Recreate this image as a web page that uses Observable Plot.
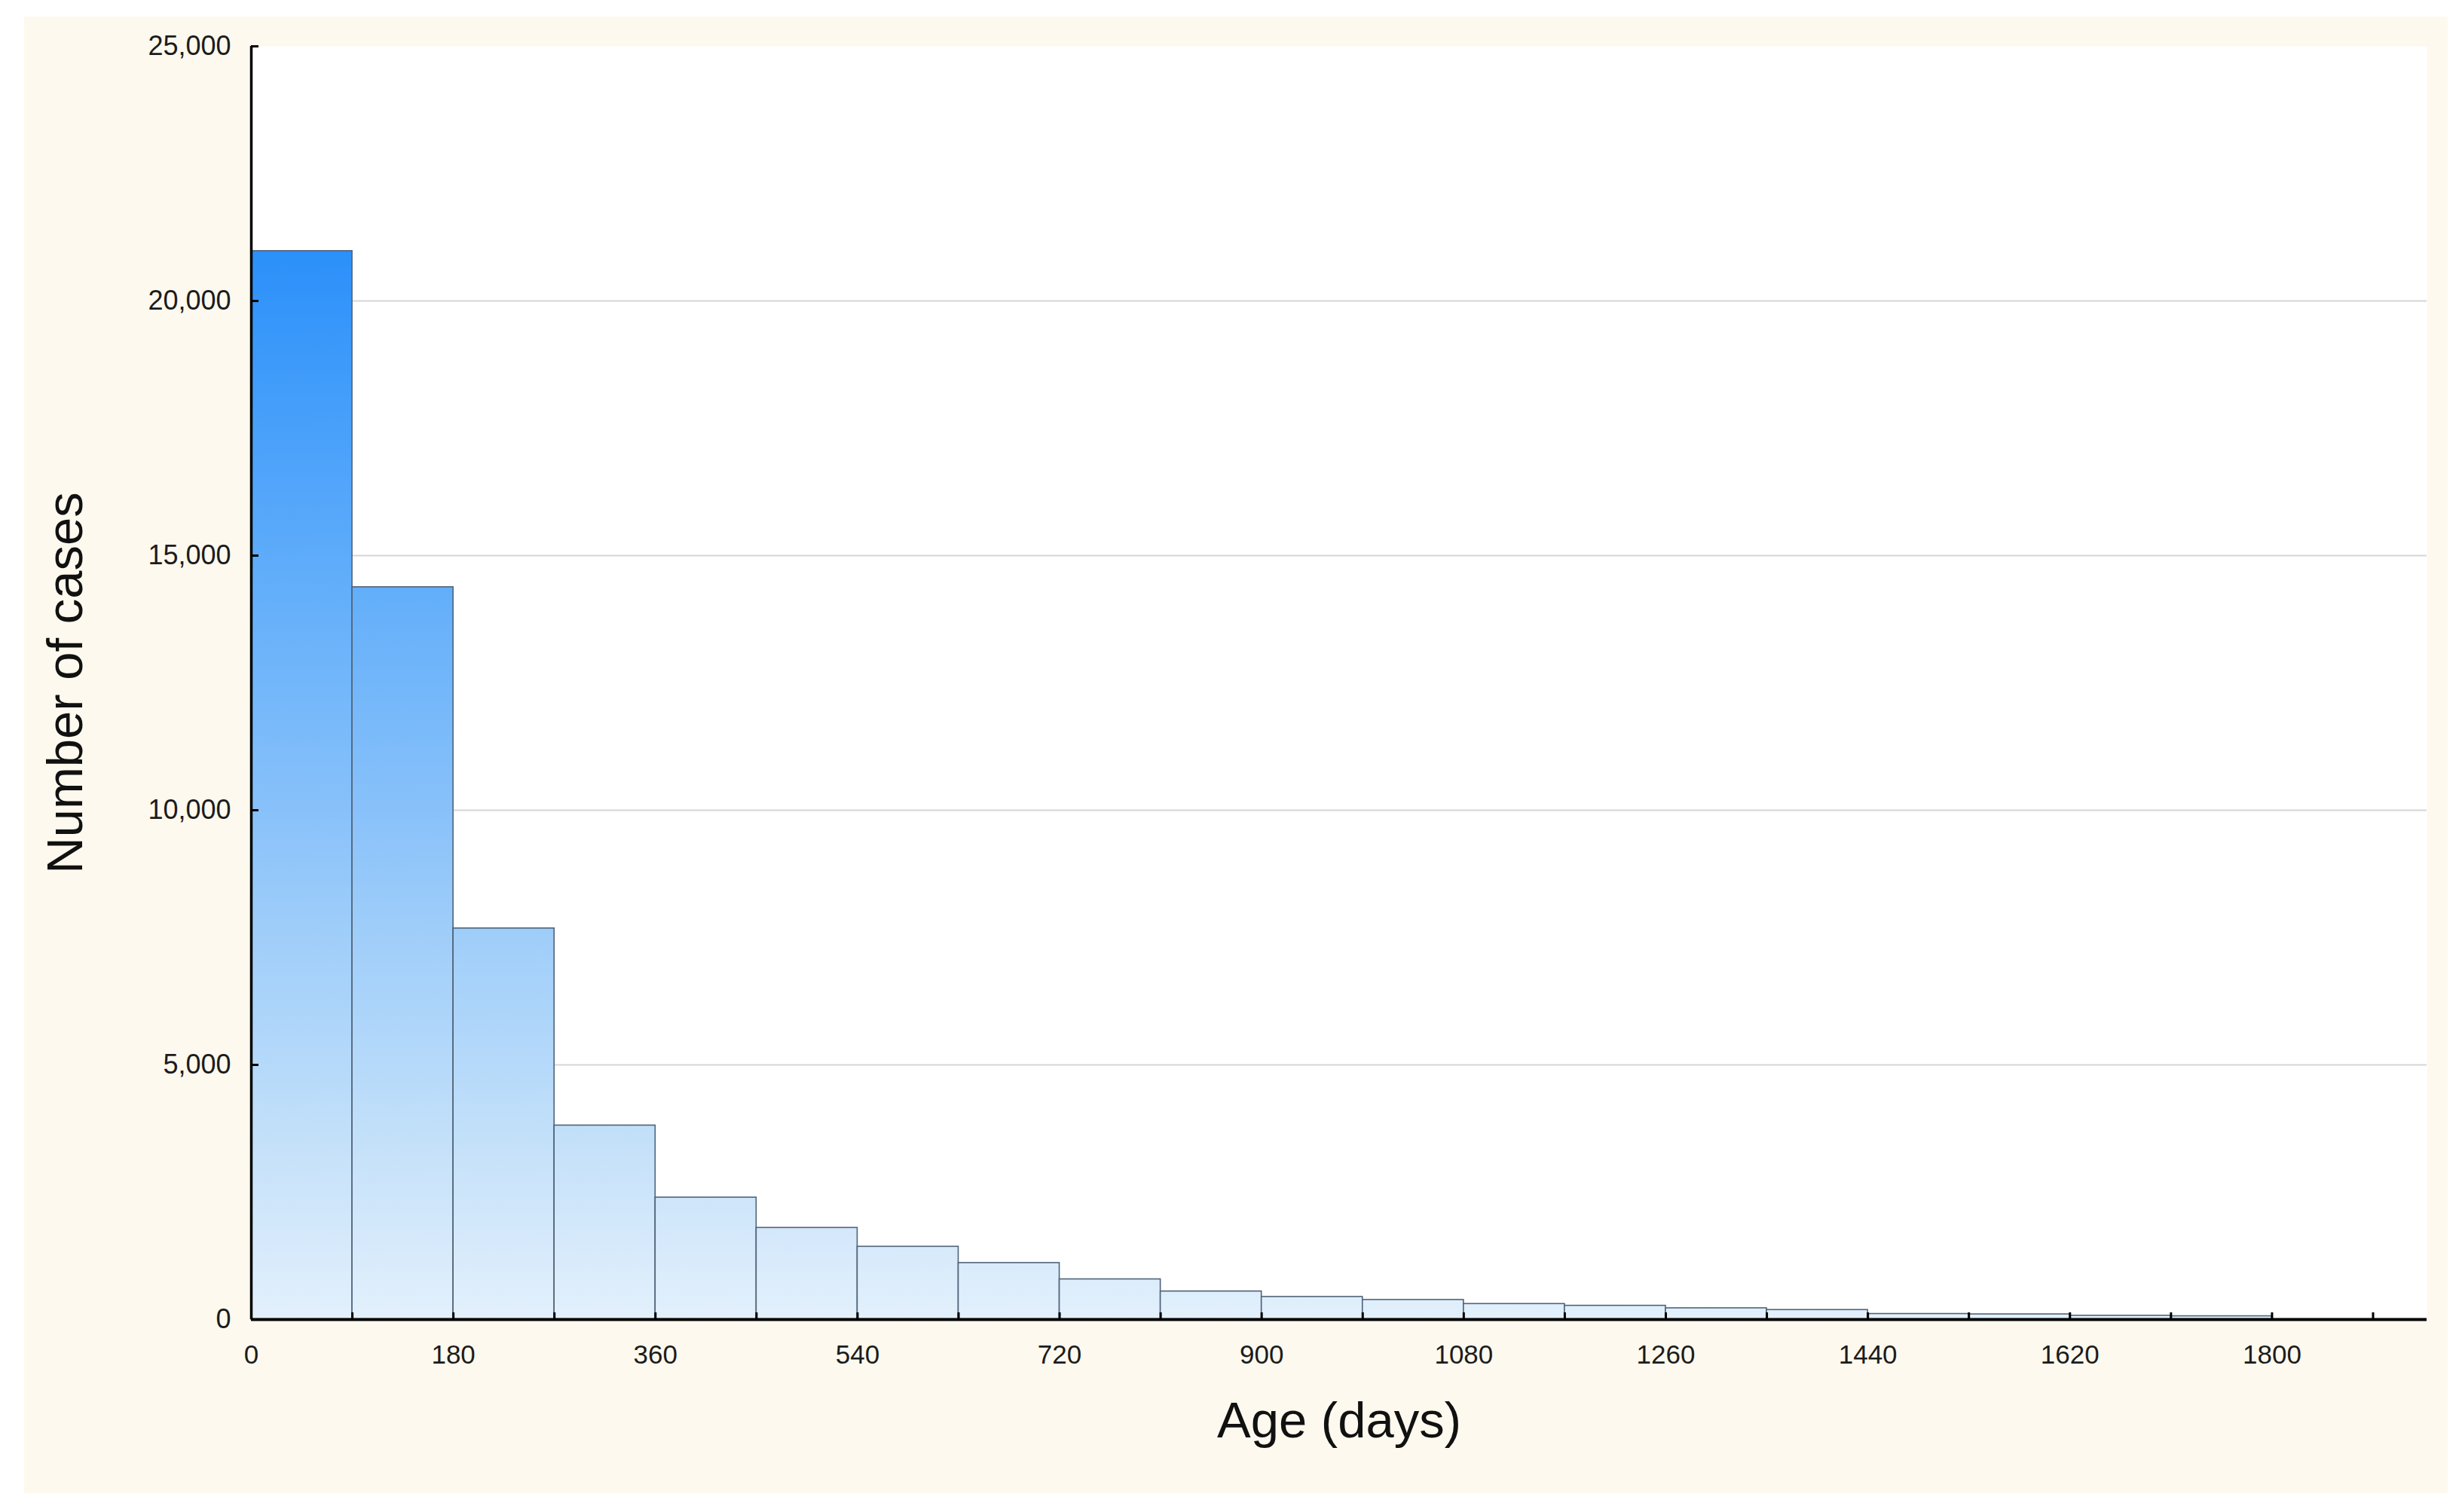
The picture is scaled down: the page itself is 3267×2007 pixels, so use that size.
<!DOCTYPE html>
<html>
<head>
<meta charset="utf-8">
<script src="https://cdn.jsdelivr.net/npm/d3@7"></script>
<script src="https://cdn.jsdelivr.net/npm/@observablehq/plot@0.6"></script>
<style>
  html, body { margin: 0; padding: 0; background: #ffffff; }
  #panel { position: absolute; left: 32px; top: 22px; width: 3216px; height: 1960px; background: #fdf9ee; }
  #chart { position: absolute; left: 0; top: 0; }
</style>
</head>
<body>
<div id="panel"></div>
<div id="chart"></div>
<script>
// ---- Data ----
const binStart = [0, 90, 180, 270, 360, 450, 540, 630, 720, 810, 900, 990, 1080, 1170, 1260, 1350, 1440, 1530, 1620, 1710];
const binWidth = 90;
const cases = [20980, 14380, 7680, 3810, 2395, 1800, 1430, 1110, 790, 552, 444, 385, 306, 271, 222, 188, 110, 102, 75, 65];

const yTicks = [0, 5000, 10000, 15000, 20000, 25000];
const gridValues = [5000, 10000, 15000, 20000];
const xMinorTicks = [0, 90, 180, 270, 360, 450, 540, 630, 720, 810, 900, 990, 1080, 1170, 1260, 1350, 1440, 1530, 1620, 1710, 1800, 1890];
const xTickLabels = [0, 180, 360, 540, 720, 900, 1080, 1260, 1440, 1620, 1800];
const xDomain = [0, 1938];
const yDomain = [0, 25000];

const xLabel = "Age (days)";
const yLabel = "Number of cases";

// gradient (style): value level -> colour
const gradientLevels = [21000, 14400, 10000, 7700, 5000, 3800, 0];
const gradientColors = ["#2b90fa", "#62aefa", "#88c1fa", "#9ecdf9", "#b5d9fa", "#c1dff9", "#e3f0fc"];

const bins = binStart.map((s, i) => ({start: s, end: s + binWidth, count: cases[i]}));

const chart = Plot.plot({
  width: 3267,
  height: 2007,
  marginLeft: 333,
  marginRight: 47,
  marginTop: 61,
  marginBottom: 256,
  style: {
    background: "transparent",
    fontFamily: "'Liberation Sans', Arial, sans-serif",
    color: "#1c1c1c",
    overflow: "visible"
  },
  x: {domain: xDomain},
  y: {domain: yDomain},
  marks: [
    Plot.frame({fill: "white", stroke: "none"}),
    Plot.ruleY(gridValues, {stroke: "#d6d6d6", strokeWidth: 2}),
    Plot.rectY(bins, {
      x1: "start", x2: "end", y: "count",
      fill: "url(#barGradient)",
      stroke: "#4f6378", strokeWidth: 1.6, inset: 0
    }),
    Plot.ruleX([0], {stroke: "#000", strokeWidth: 3.5}),
    Plot.ruleY([0], {stroke: "#000", strokeWidth: 4}),
    Plot.axisY(yTicks, {
      tickSize: -10, tickPadding: 37, strokeWidth: 3, stroke: "#000",
      fontSize: 36, tickFormat: d3.format(","), label: null
    }),
    Plot.axisX(xMinorTicks, {
      tickSize: -9, strokeWidth: 3, stroke: "#000",
      tickFormat: () => "", label: null
    }),
    Plot.axisX(xTickLabels, {
      tickSize: 0, tickPadding: 34, fontSize: 35, tickFormat: d => String(d), label: null
    }),
    Plot.text([yLabel], {frameAnchor: "left", textAnchor: "middle", rotate: -90, dx: -246, fontSize: 67, fill: "#111"}),
    Plot.text([xLabel], {frameAnchor: "bottom", textAnchor: "middle", dy: 156, fontSize: 67, fill: "#111"})
  ]
});

// vertical gradient shared by all bars, positioned through the y scale
const ys = chart.scale("y");
const ns = "http://www.w3.org/2000/svg";
const defs = document.createElementNS(ns, "defs");
const grad = document.createElementNS(ns, "linearGradient");
const gy1 = ys.apply(gradientLevels[0]);
const gy2 = ys.apply(gradientLevels[gradientLevels.length - 1]);
grad.setAttribute("id", "barGradient");
grad.setAttribute("gradientUnits", "userSpaceOnUse");
grad.setAttribute("x1", "0");
grad.setAttribute("x2", "0");
grad.setAttribute("y1", gy1);
grad.setAttribute("y2", gy2);
gradientLevels.forEach((v, i) => {
  const stop = document.createElementNS(ns, "stop");
  stop.setAttribute("offset", ((ys.apply(v) - gy1) / (gy2 - gy1)).toFixed(4));
  stop.setAttribute("stop-color", gradientColors[i]);
  grad.appendChild(stop);
});
defs.appendChild(grad);
chart.insertBefore(defs, chart.firstChild);

document.getElementById("chart").appendChild(chart);
</script>
</body>
</html>
